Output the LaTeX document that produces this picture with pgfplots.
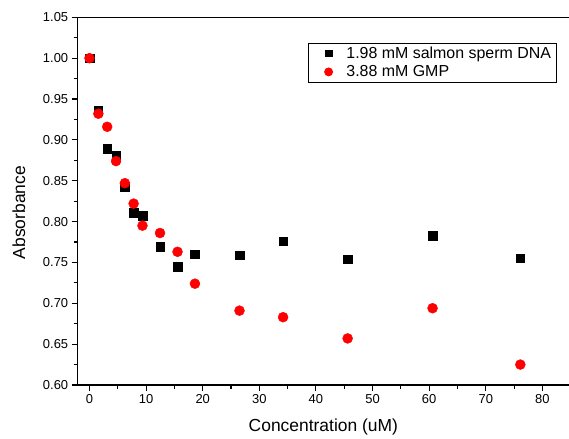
\documentclass[border=0pt]{standalone}
\usepackage{fontspec}
\setmainfont{Liberation Sans}
\usepackage{pgfplots}
\pgfplotsset{compat=1.18}
\begin{document}
\begin{tikzpicture}
\begin{axis}[
  at={(0,0)}, anchor=south west,
  scale only axis, width=491.3bp, height=367.7bp,
  xmin=-2.08, xmax=84.7, ymin=0.60, ymax=1.05,
  axis x line*=box, axis y line*=left,
  axis line style={-, line width=1.2bp},
  xtick pos=bottom, ytick pos=left,
  tick align=outside,
  major tick length=6bp, minor tick length=3.5bp,
  every tick/.style={black, line width=1.1bp},
  xtick={0,10,...,80}, minor x tick num=1,
  ytick={0.60,0.65,...,1.05}, minor y tick num=1,
  /pgf/number format/assume math mode=true,
  yticklabel style={/pgf/number format/.cd, fixed, fixed zerofill, precision=2},
  tick label style={font=\fontsize{13}{15}\selectfont},
  xlabel={Concentration (uM)}, ylabel={Absorbance},
  label style={font=\fontsize{17.5}{20}\selectfont},
  xlabel style={at={(axis description cs:0.5,-0.113)}, anchor=center},
  ylabel style={at={(axis description cs:-0.1195,0.469)}, anchor=center, rotate=0},
  legend style={at={(axis description cs:0.4688,0.931)}, anchor=north west,
    font=\fontsize{16}{19.5}\selectfont, draw=black, line width=0.8bp,
    cells={anchor=west}, row sep=1.5bp},
  legend cell align=left,
  legend image code/.code={\path[draw=none, fill=none] (-17.2bp,-4bp) rectangle (15.8bp,4bp); \draw[#1] plot coordinates {(0bp,0bp)};},
]
\addplot[only marks, mark=square*, mark size=4.3bp, black, legend image post style={mark size=3.3bp}] coordinates {
(0,1.000) (1.57,0.936) (3.13,0.889) (4.69,0.881) (6.25,0.843) (7.80,0.811)
(9.36,0.807) (12.46,0.769) (15.55,0.745) (18.63,0.760) (26.5,0.759)
(34.2,0.776) (45.6,0.754) (60.6,0.783) (76.1,0.755)};
\addlegendentry{1.98 mM salmon sperm DNA}
\addplot[only marks, mark=*, mark size=5bp, red, mark options={fill=red, draw=red}, legend image post style={mark size=4bp}] coordinates {
(0,1.000) (1.57,0.932) (3.13,0.916) (4.69,0.874) (6.25,0.847) (7.80,0.822)
(9.36,0.795) (12.46,0.786) (15.55,0.763) (18.63,0.724) (26.5,0.691)
(34.2,0.683) (45.6,0.657) (60.6,0.694) (76.1,0.625)};
\addlegendentry{3.88 mM GMP}
\end{axis}
\pgfresetboundingbox
\useasboundingbox (-77.7bp,-54bp) rectangle (491.3bp,385bp);
\end{tikzpicture}
\end{document}
